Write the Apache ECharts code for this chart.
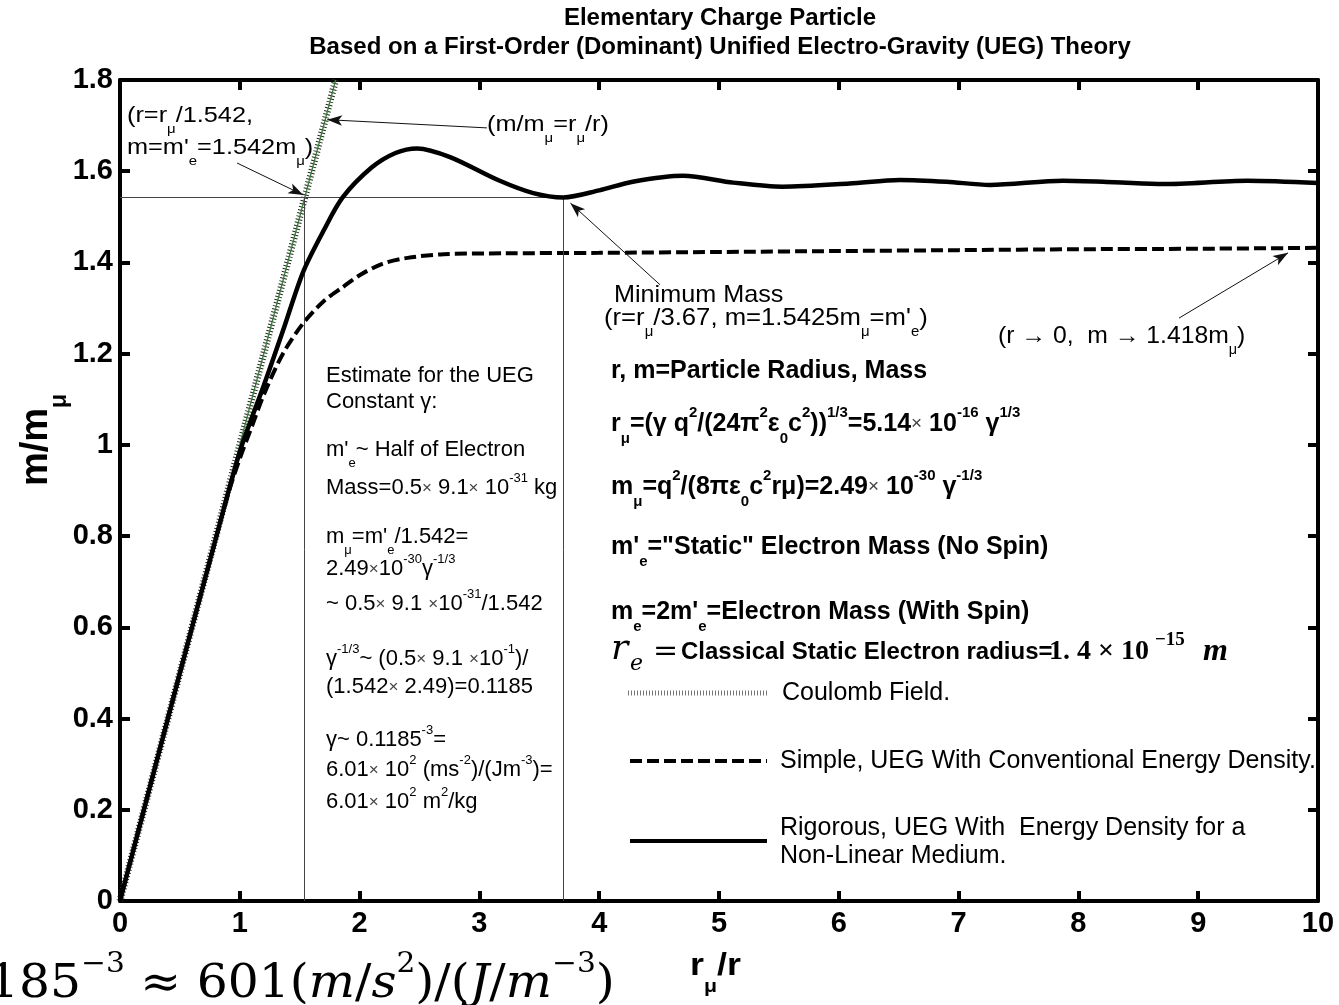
<!DOCTYPE html>
<html>
<head>
<meta charset="utf-8">
<script src="https://cdn.jsdelivr.net/npm/echarts@6/dist/echarts.min.js"></script>
<style>
html, body { margin: 0; padding: 0; background: #fff; }
#chart { width: 1339px; height: 1005px; }
</style>
</head>
<body>
<div id="chart"></div>
<script>
// data (x = r_mu/r, y = m/m_mu)
const rigX = [0, 0.5, 0.8, 1.0, 1.2, 1.36, 1.53, 1.7, 1.86, 2.1, 2.3, 2.48, 2.755, 3.17, 3.45, 3.7, 4.0, 4.28, 4.7, 5.12, 5.53, 6.09, 6.51, 6.9, 7.26, 7.87, 8.3, 8.71, 9.41, 10];
const rigY = [0, 0.5, 0.795, 0.985, 1.13, 1.25, 1.38, 1.47, 1.543, 1.608, 1.64, 1.65, 1.631, 1.579, 1.552, 1.5425, 1.558, 1.577, 1.59, 1.575, 1.566, 1.573, 1.581, 1.577, 1.57, 1.579, 1.576, 1.572, 1.579, 1.574];
const simX = [0, 0.5, 0.9, 1.0, 1.1, 1.2, 1.36, 1.53, 1.7, 1.86, 2.0, 2.19, 2.4, 2.7, 3.2, 4, 5, 6, 7, 8, 9, 10];
const simY = [0, 0.5, 0.89, 0.97, 1.04, 1.11, 1.2, 1.267, 1.315, 1.346, 1.372, 1.397, 1.41, 1.418, 1.42, 1.421, 1.423, 1.425, 1.427, 1.429, 1.43, 1.432];
const coulX = [0, 1.8];
const coulY = [0, 1.8];
const refX = [1.542, 3.7];
const refY = [1.542, 1.5425];
const xTicks = [0, 1, 2, 3, 4, 5, 6, 7, 8, 9, 10];
const yTicks = [0, 0.2, 0.4, 0.6, 0.8, 1, 1.2, 1.4, 1.6, 1.8];

const pts = (xs, ys) => xs.map((x, i) => [x, ys[i]]);
const SANS = 'Liberation Sans, Arial, sans-serif';
const SERIF = 'Liberation Serif, DejaVu Serif, serif';
const DSERIF = 'DejaVu Serif, Liberation Serif, serif';

// text with sub / superscripts
function tx(x, y, s, o) {
  o = o || {};
  const fs = o.fs || 22, fw = o.fw || 'normal', ff = o.ff || SANS, st = o.it ? 'italic' : 'normal';
  const sm = Math.round(fs * 0.6);
  return {
    type: 'text', x: x, y: y, rotation: o.rot || 0, scaleX: o.sx || 1, z: 100, silent: true,
    style: {
      text: s, fill: '#000', fontSize: fs, fontWeight: fw, fontFamily: ff, fontStyle: st,
      align: o.align || 'left', verticalAlign: 'middle',
      rich: {
        sub: { fontSize: sm, fontWeight: fw, fontFamily: ff, fontStyle: st, padding: [fs * (o.subPad || 1.2), 0, 0, 0] },
        sup: { fontSize: sm, fontWeight: fw, fontFamily: ff, fontStyle: st, padding: [0, 0, fs * 0.9, 0] },
        i: { fontSize: fs, fontWeight: fw, fontFamily: ff, fontStyle: 'italic' },
        x: { fontSize: Math.round(fs * 0.75), fontWeight: 'normal', fontFamily: ff, fill: '#444' }
      }
    }
  };
}

const texts = [
  tx(720, 18, 'Elementary Charge Particle', { fs: 24, fw: 'bold', align: 'center' }),
  tx(720, 47, 'Based on a First-Order (Dominant) Unified Electro-Gravity (UEG) Theory', { fs: 24, fw: 'bold', align: 'center' }),
  tx(37, 440, 'm/m{sub|μ}', { fs: 38, fw: 'bold', align: 'center', rot: Math.PI / 2 }),
  tx(690, 966, 'r{sub|μ}/r', { fs: 32, fw: 'bold', sx: 1.12, subPad: 1.3 }),
  tx(-12, 985, '185{sup|−3} ≈ 601({i|m}/{i|s}{sup|2})/({i|J}/{i|m}{sup|−3})', { fs: 46, ff: DSERIF, sx: 1.06 }),

  tx(127, 116, '(r=r{sub|μ}/1.542,', { sx: 1.15 }),
  tx(127, 148, "m=m'{sub|e}=1.542m{sub|μ})", { sx: 1.15 }),
  tx(487, 125, '(m/m{sub|μ}=r{sub|μ}/r)', { sx: 1.15 }),
  tx(614, 295, 'Minimum Mass', { fs: 24, sx: 1.05 }),
  tx(604, 318, "(r=r{sub|μ}/3.67, m=1.5425m{sub|μ}=m'{sub|e})", { fs: 24, sx: 1.07 }),
  tx(998, 336, '(r → 0,  m → 1.418m{sub|μ})', { fs: 24, sx: 1.03 }),

  tx(326, 376, 'Estimate for the UEG'),
  tx(326, 402, 'Constant γ:'),
  tx(326, 450, "m'{sub|e}~ Half of Electron"),
  tx(326, 488, 'Mass=0.5{x|×} 9.1{x|×} 10{sup|-31} kg'),
  tx(326, 537, "m{sub|μ}=m'{sub|e}/1.542="),
  tx(326, 569, '2.49{x|×}10{sup|-30}γ{sup|-1/3}'),
  tx(326, 604, '~ 0.5{x|×} 9.1 {x|×}10{sup|-31}/1.542'),
  tx(326, 659, 'γ{sup|-1/3}~ (0.5{x|×} 9.1 {x|×}10{sup|-1})/'),
  tx(326, 687, '(1.542{x|×} 2.49)=0.1185'),
  tx(326, 740, 'γ~ 0.1185{sup|-3}='),
  tx(326, 770, '6.01{x|×} 10{sup|2} (ms{sup|-2})/(Jm{sup|-3})='),
  tx(326, 802, '6.01{x|×} 10{sup|2} m{sup|2}/kg'),

  tx(611, 371, 'r, m=Particle Radius, Mass', { fs: 25, fw: 'bold' }),
  tx(611, 424, 'r{sub|μ}=(γ q{sup|2}/(24π{sup|2}ε{sub|0}c{sup|2})){sup|1/3}=5.14{x|×} 10{sup|-16} γ{sup|1/3}', { fs: 25, fw: 'bold' }),
  tx(611, 487, 'm{sub|μ}=q{sup|2}/(8πε{sub|0}c{sup|2}rμ)=2.49{x|×} 10{sup|-30} γ{sup|-1/3}', { fs: 25, fw: 'bold' }),
  tx(611, 547, "m'{sub|e}=\"Static\" Electron Mass (No Spin)", { fs: 25, fw: 'bold' }),
  tx(611, 612, "m{sub|e}=2m'{sub|e}=Electron Mass (With Spin)", { fs: 25, fw: 'bold' }),
  tx(611, 650, 'r', { fs: 36, it: true, ff: DSERIF }),
  tx(630, 664, 'e', { fs: 22, it: true, ff: DSERIF }),
  tx(653, 652, '=', { fs: 30, ff: DSERIF }),
  tx(681, 652, 'Classical Static Electron radius=', { fs: 24, fw: 'bold' }),
  tx(1049, 652, '1. 4 × 10', { fs: 28, fw: 'bold', ff: SERIF }),
  tx(1155, 640, '−15', { fs: 19, fw: 'bold', ff: SERIF }),
  tx(1203, 652, 'm', { fs: 32, fw: 'bold', it: true, ff: SERIF }),

  tx(782, 693, 'Coulomb Field.', { fs: 25 }),
  tx(780, 761, 'Simple, UEG With Conventional Energy Density.', { fs: 25 }),
  tx(780, 828, 'Rigorous, UEG With  Energy Density for a', { fs: 25 }),
  tx(780, 856, 'Non-Linear Medium.', { fs: 25 })
];

const legendLines = [
  { type: 'line', z: 100, silent: true, shape: { x1: 628, y1: 693, x2: 768, y2: 693 }, style: { stroke: '#777', lineWidth: 5, lineDash: [1, 2] } },
  { type: 'line', z: 100, silent: true, shape: { x1: 630, y1: 761, x2: 767, y2: 761 }, style: { stroke: '#000', lineWidth: 4, lineDash: [12, 5] } },
  { type: 'line', z: 100, silent: true, shape: { x1: 630, y1: 841, x2: 767, y2: 841 }, style: { stroke: '#000', lineWidth: 4 } }
];

// annotation arrows (tail -> head), in axis units
const arrows = [
  [[0.977, 1.618], [1.53, 1.548]],
  [[3.063, 1.695], [1.73, 1.713]],
  [[4.508, 1.351], [3.76, 1.53]],
  [[8.84, 1.278], [9.75, 1.421]]
];

const thin = { color: '#444', width: 1, type: 'solid' };
const arrowStyle = { color: '#111', width: 1, type: 'solid' };
const markData = [
  [{ coord: [xTicks[0], refY[0]], lineStyle: thin }, { coord: [refX[1], refY[0]], lineStyle: thin }],
  [{ coord: [refX[0], yTicks[0]], lineStyle: thin }, { coord: [refX[0], refY[0]], lineStyle: thin }],
  [{ coord: [refX[1], yTicks[0]], lineStyle: thin }, { coord: [refX[1], refY[1]], lineStyle: thin }]
].concat(arrows.map(a => [
  { coord: a[0], symbol: 'none', lineStyle: arrowStyle },
  { coord: a[1], symbol: 'arrow', symbolSize: [8, 15], lineStyle: arrowStyle, itemStyle: { color: '#111' } }
]));

const axisFont = { fontFamily: 'Liberation Sans', fontWeight: 'bold', fontSize: 29, color: '#000' };
const frame = { show: true, onZero: false, lineStyle: { color: '#000', width: 4 } };
const tick = { show: true, inside: true, length: 10, lineStyle: { color: '#000', width: 4 } };
const xBase = { type: 'value', min: xTicks[0], max: xTicks[xTicks.length - 1], interval: xTicks[1] - xTicks[0], axisLine: frame, axisTick: tick, splitLine: { show: false } };
const yBase = { type: 'value', min: yTicks[0], max: yTicks[yTicks.length - 1], interval: 0.2, axisLine: frame, axisTick: tick, splitLine: { show: false } };

const chart = echarts.init(document.getElementById('chart'));
chart.setOption({
  animation: false,
  backgroundColor: '#fff',
  grid: { left: 120, right: 21, top: 80, bottom: 104, containLabel: false, outerBoundsMode: 'none' },
  xAxis: [
    Object.assign({ position: 'bottom', axisLabel: Object.assign({ margin: 8 }, axisFont) }, xBase),
    Object.assign({ position: 'top', axisLabel: { show: false } }, xBase)
  ],
  yAxis: [
    Object.assign({ position: 'left', axisLabel: Object.assign({ margin: 7 }, axisFont) }, yBase),
    Object.assign({ position: 'right', axisLabel: { show: false } }, yBase)
  ],
  series: [
    { name: 'Coulomb ticks', type: 'line', data: pts(coulX, coulY), symbol: 'none', silent: true, z: 2,
      lineStyle: { color: '#1d2b1d', width: 7, type: [1, 2.2] } },
    { name: 'Coulomb Field', type: 'line', data: pts(coulX, coulY), symbol: 'none', silent: true, z: 3,
      lineStyle: { color: '#3a7a3a', width: 1.3 } },
    { name: 'Simple', type: 'line', data: pts(simX, simY), symbol: 'none', smooth: 0.3, z: 4,
      lineStyle: { color: '#000', width: 4, type: [12, 5] } },
    { name: 'Rigorous', type: 'line', data: pts(rigX, rigY), symbol: 'none', smooth: 0.3, z: 5,
      lineStyle: { color: '#000', width: 4.5 },
      markLine: { silent: true, animation: false, symbol: ['none', 'none'], label: { show: false },
        emphasis: { disabled: true }, data: markData } }
  ],
  graphic: texts.concat(legendLines)
});
</script>
</body>
</html>
